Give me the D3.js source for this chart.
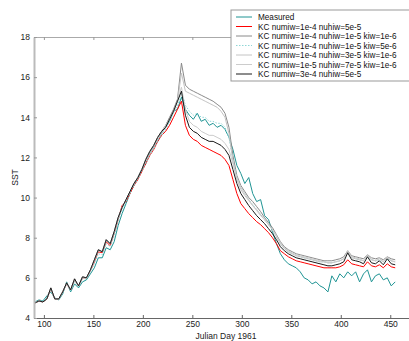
<!DOCTYPE html>
<html><head><meta charset="utf-8">
<script src="https://cdn.jsdelivr.net/npm/d3@7"></script>
<style>body{margin:0;background:#fff}svg{display:block;font-family:"Liberation Sans",Arial,sans-serif}</style>
</head><body><svg id="c" width="409" height="341"></svg>
<script>
const days = [91,95,99,103,107,111,115,119,123,127,131,135,139,143,147,151,155,159,163,167,
171,175,179,183,187,191,195,199,203,207,211,215,219,223,227,231,235,239,243,247,
251,255,259,263,267,271,275,279,283,287,291,295,299,303,307,311,315,319,323,327,
331,335,339,343,347,351,355,359,363,367,371,375,379,383,387,391,395,399,403,407,
411,415,419,423,427,431,435,439,443,447,451,455];

const measured = [4.8,4.9,4.85,5.1,5.3,5.0,4.9,5.2,5.8,5.3,
5.7,5.5,5.8,5.9,6.2,6.5,7.0,7.0,7.5,7.4,
7.8,8.6,9.2,9.7,10.2,10.6,11.0,11.4,11.7,12.2,
12.5,12.8,13.2,13.5,13.8,14.3,14.4,15.0,14.4,14.1,
13.9,14.2,13.8,13.9,13.6,13.7,13.5,13.6,13.4,13.0,
12.4,11.6,11.2,10.7,11.0,10.2,9.8,9.9,9.1,8.9,
8.3,7.7,7.2,6.9,6.7,6.6,6.5,6.3,6.0,5.9,
5.7,5.8,5.6,5.5,5.3,6.1,5.8,6.2,6.0,6.3,
6.1,6.3,5.8,6.2,6.4,5.8,6.1,6.2,5.9,6.0,
5.6,5.8];

const kcA = [4.75,4.85,4.8,4.95,5.45,4.95,4.95,5.3,5.7,5.4,
5.9,5.6,6.0,6.0,6.35,6.8,7.3,7.25,7.8,7.6,
8.2,8.9,9.6,9.8,10.2,10.6,10.9,11.3,11.7,12.1,
12.4,12.8,13.1,13.3,13.6,14.0,14.4,14.8,13.6,13.1,
12.9,12.8,12.6,12.5,12.4,12.3,12.2,12.1,11.9,11.6,
10.9,10.2,9.7,9.45,9.2,9.0,8.8,8.65,8.45,8.25,
8.0,7.7,7.35,7.2,7.05,6.95,6.85,6.8,6.75,6.7,
6.65,6.6,6.55,6.5,6.5,6.5,6.5,6.55,6.65,6.9,
6.7,6.65,6.6,6.55,6.8,6.6,6.55,6.65,6.5,6.7,
6.55,6.5];

const kcB = [4.75,4.85,4.8,4.95,5.5,4.95,4.95,5.3,5.75,5.4,
5.95,5.6,6.05,6.0,6.4,6.9,7.4,7.3,7.9,7.7,
8.3,9.0,9.5,9.9,10.3,10.7,11.0,11.4,11.9,12.3,
12.6,13.0,13.3,13.6,14.0,14.4,14.9,16.7,15.6,15.4,
15.3,15.2,15.1,15.0,14.9,14.8,14.65,14.5,14.2,13.5,
12.1,11.1,10.6,10.3,10.0,9.8,9.55,9.3,9.0,8.75,
8.5,8.15,7.8,7.55,7.4,7.3,7.2,7.15,7.1,7.05,
7.0,6.95,6.9,6.85,6.85,6.85,6.9,6.95,7.05,7.35,
7.1,7.05,7.0,6.95,7.15,7.0,6.95,7.0,6.9,7.05,
6.95,6.9];

const kcC = [4.8,4.85,4.85,5.0,5.4,4.95,4.95,5.25,5.7,5.35,
5.85,5.55,5.95,5.95,6.3,6.7,7.2,7.15,7.7,7.55,
8.1,8.8,9.35,9.8,10.2,10.6,10.9,11.3,11.7,12.1,
12.4,12.8,13.1,13.4,13.8,14.2,14.6,15.3,14.6,14.3,
14.1,14.2,14.0,14.0,13.8,13.8,13.7,13.7,13.5,13.0,
11.9,11.0,10.5,10.2,9.9,9.65,9.4,9.15,8.9,8.65,
8.4,8.05,7.7,7.45,7.3,7.2,7.1,7.05,7.0,6.95,
6.9,6.85,6.8,6.8,6.75,6.75,6.8,6.85,6.95,7.25,
7.0,6.95,6.9,6.85,7.05,6.9,6.85,6.9,6.8,6.95,
6.85,6.8];

const kcD = [4.75,4.85,4.8,4.95,5.45,4.95,4.95,5.3,5.7,5.4,
5.9,5.6,6.0,6.0,6.35,6.85,7.35,7.3,7.85,7.7,
8.25,8.95,9.5,9.9,10.3,10.7,11.0,11.4,11.8,12.2,
12.5,12.9,13.2,13.5,13.9,14.3,14.8,16.2,15.3,15.2,
15.1,15.0,14.9,14.8,14.7,14.6,14.5,14.3,14.0,13.2,
11.8,10.9,10.4,10.1,9.85,9.6,9.4,9.15,8.9,8.65,
8.4,8.05,7.7,7.45,7.3,7.2,7.1,7.05,7.0,6.95,
6.9,6.85,6.8,6.8,6.75,6.75,6.8,6.85,6.95,7.3,
7.0,6.95,6.9,6.85,7.1,6.9,6.85,6.95,6.8,7.0,
6.85,6.8];

const kcE = [4.75,4.85,4.8,4.95,5.5,4.95,4.95,5.3,5.75,5.4,
5.95,5.6,6.05,6.0,6.4,6.9,7.4,7.3,7.9,7.7,
8.3,9.0,9.5,9.9,10.3,10.7,11.0,11.4,11.9,12.3,
12.6,13.0,13.3,13.6,13.9,14.3,14.8,15.5,14.4,13.8,
13.6,13.5,13.3,13.2,13.1,13.1,13.0,12.9,12.7,12.4,
11.7,11.0,10.5,10.2,9.9,9.6,9.35,9.1,8.9,8.65,
8.4,8.1,7.75,7.5,7.35,7.25,7.15,7.1,7.05,7.0,
6.95,6.9,6.85,6.8,6.75,6.75,6.8,6.85,6.95,7.35,
7.05,7.0,6.95,6.85,7.15,6.9,6.85,7.0,6.8,7.05,
6.85,6.8];

const kcF = [4.75,4.85,4.8,4.95,5.5,4.95,4.95,5.3,5.75,5.4,
5.95,5.6,6.05,6.0,6.4,6.9,7.4,7.3,7.9,7.7,
8.3,9.0,9.5,9.9,10.3,10.7,11.0,11.4,11.9,12.3,
12.6,13.0,13.3,13.5,13.9,14.3,14.8,15.3,14.1,13.5,
13.3,13.2,13.0,12.9,12.8,12.8,12.7,12.6,12.4,12.1,
11.4,10.7,10.2,9.9,9.6,9.35,9.1,8.9,8.7,8.45,
8.2,7.9,7.55,7.35,7.2,7.1,7.0,6.95,6.9,6.85,
6.8,6.75,6.7,6.65,6.6,6.6,6.65,6.7,6.8,7.25,
6.9,6.85,6.8,6.7,7.05,6.75,6.7,6.85,6.65,6.95,
6.7,6.65];

const seriesNames = ["Measured","KC numiw=1e-4 nuhiw=5e-5","KC numiw=1e-4 nuhiw=1e-5 kiw=1e-6",
"KC numiw=1e-4 nuhiw=1e-5 kiw=5e-6","KC numiw=1e-4 nuhiw=3e-5 kiw=1e-6",
"KC numiw=1e-5 nuhiw=7e-5 kiw=1e-6","KC numiw=3e-4 nuhiw=5e-5"];
const seriesValues = [measured,kcA,kcB,kcC,kcD,kcE,kcF];
const seriesColors = ["#1f9494","#ff0000","#8a8a8a","#8fd6d6","#c4c4c4","#cccccc","#1a1a1a"];
const seriesDash = [null,null,null,"1.5,1.5",null,null,null];
const xTicks = [100,150,200,250,300,350,400,450];
const yTicks = [4,6,8,10,12,14,16,18];

const svg = d3.select("#c");
const L=34, T=37, B=318, R=415;
const FONT = "Liberation Sans, Arial, sans-serif";
const x = d3.scaleLinear().domain([90,475]).range([L,R]);
const y = d3.scaleLinear().domain([4,18]).range([B,T]);

// lines
const line = d3.line().x((d,i)=>x(days[i])).y(d=>y(d));
seriesValues.forEach((vals,k)=>{
  svg.append("path").attr("d",line(vals)).attr("fill","none")
    .attr("stroke",seriesColors[k]).attr("stroke-width",1)
    .attr("stroke-dasharray",seriesDash[k]);
});

// axes
const gx = svg.append("g").attr("transform",`translate(0,${B})`)
  .call(d3.axisBottom(x).tickValues(xTicks).tickSizeInner(-3).tickSizeOuter(0).tickPadding(3));
gx.select(".domain").attr("stroke","#666");
gx.selectAll(".tick line").attr("stroke","#666");
gx.selectAll("text").attr("font-size",8.5).attr("fill","#222").attr("font-family",FONT);

const gt = svg.append("g").attr("transform",`translate(0,${T})`)
  .call(d3.axisTop(x).tickValues(xTicks).tickSizeInner(-3).tickSizeOuter(0).tickFormat(""));
gt.select(".domain").attr("stroke","#aaa");
gt.selectAll(".tick line").attr("stroke","#999");

const gy = svg.append("g").attr("transform",`translate(${L},0)`)
  .call(d3.axisLeft(y).tickValues(yTicks).tickSizeInner(-3).tickSizeOuter(0).tickPadding(4));
gy.select(".domain").attr("stroke","#bbb").attr("stroke-width",2);
gy.selectAll(".tick line").attr("stroke","#999");
gy.selectAll("text").attr("font-size",8.5).attr("fill","#222").attr("font-family",FONT);

svg.append("text").attr("x",226).attr("y",339).attr("text-anchor","middle")
  .attr("font-size",8.5).attr("fill","#222").attr("font-family",FONT).text("Julian Day 1961");
svg.append("text").attr("transform",`translate(18,${(T+B)/2}) rotate(-90)`).attr("text-anchor","middle")
  .attr("font-size",8.5).attr("fill","#222").attr("font-family",FONT).text("SST");

// legend
const lg = svg.append("g");
lg.append("rect").attr("x",231).attr("y",10).attr("width",185).attr("height",71)
  .attr("fill","#fff").attr("stroke","#999").attr("stroke-width",1);
seriesNames.forEach((n,k)=>{
  const cy = 17 + k*9.5;
  lg.append("line").attr("x1",236).attr("x2",252).attr("y1",cy).attr("y2",cy)
    .attr("stroke",seriesColors[k]).attr("stroke-width",1).attr("stroke-dasharray",seriesDash[k]);
  lg.append("text").attr("x",258).attr("y",cy+3).attr("font-size",8.2).attr("fill","#111")
    .attr("font-family",FONT).text(n);
});
</script></body></html>
